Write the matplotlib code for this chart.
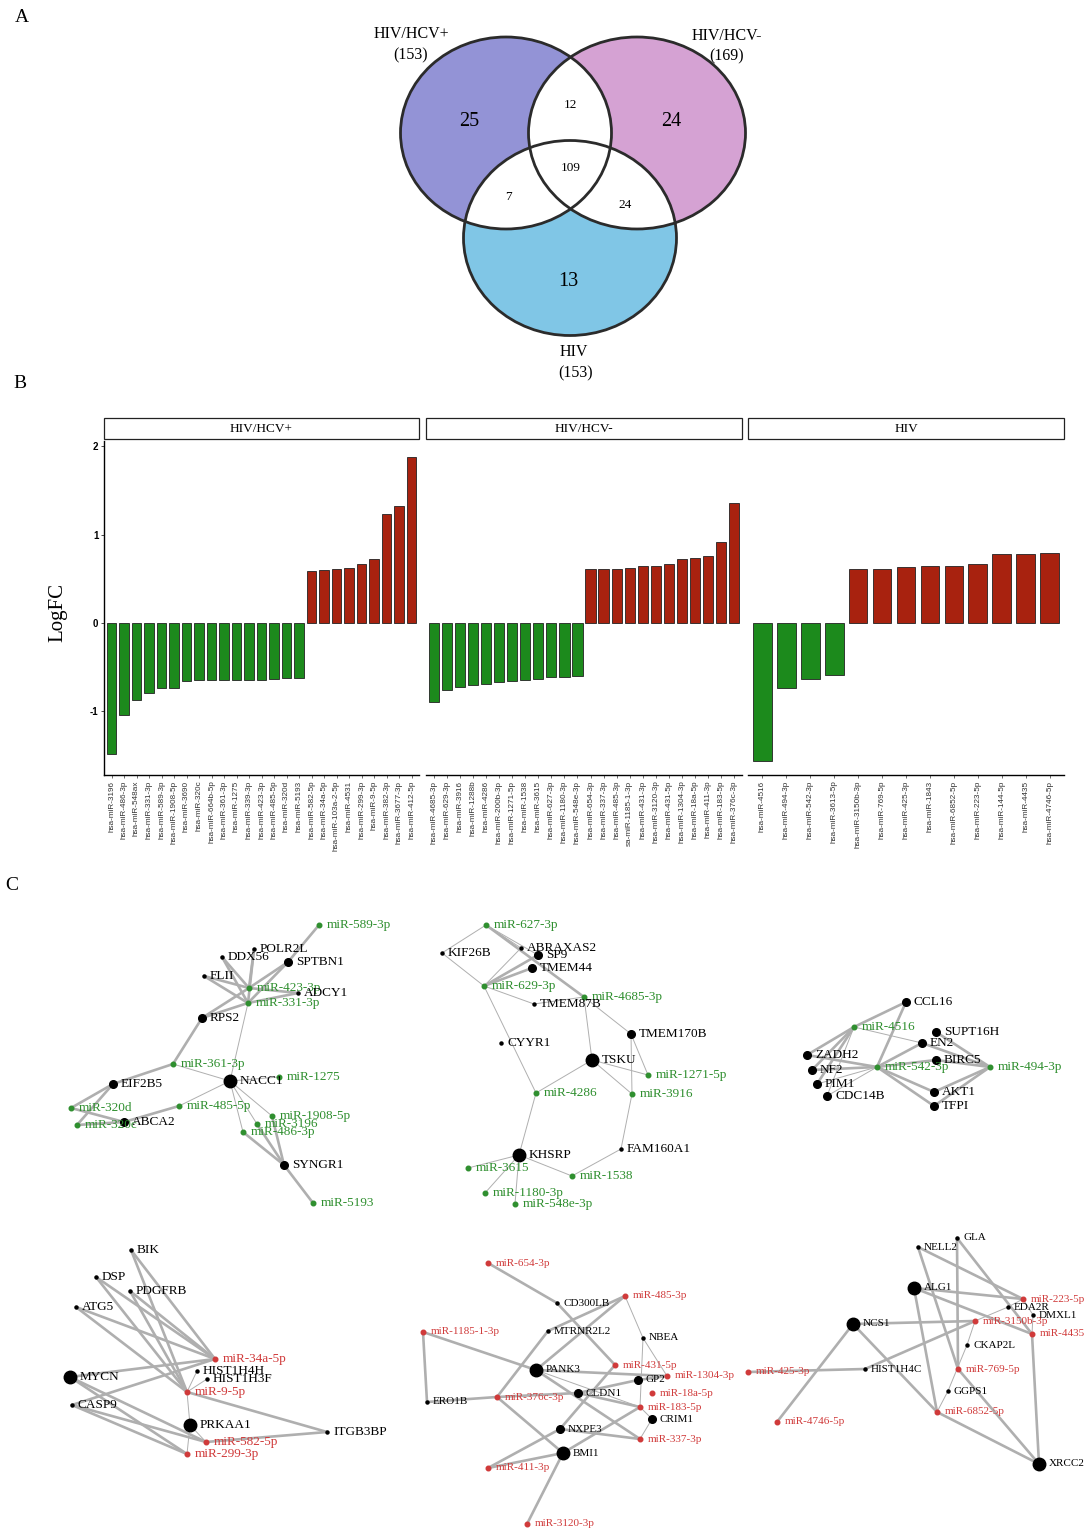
import matplotlib
matplotlib.use("Agg")
import matplotlib.pyplot as plt
from matplotlib.patches import Ellipse, Rectangle
import numpy as np

# ---------------------------------------------------------------- data
# Panel A: Venn diagram
venn_sets    = ["HIV/HCV+", "HIV/HCV-", "HIV"]
venn_totals  = [153, 169, 153]
venn_regions = ["HIV/HCV+ only", "HIV/HCV- only", "HIV only",
                "HIV/HCV+ & HIV/HCV-", "HIV/HCV+ & HIV", "HIV/HCV- & HIV", "all"]
venn_counts  = [25, 24, 13, 12, 7, 24, 109]

# Panel B: LogFC per miRNA in each group
hcvpos_mirs = ["hsa-miR-3196", "hsa-miR-486-3p", "hsa-miR-548ax", "hsa-miR-331-3p",
               "hsa-miR-589-3p", "hsa-miR-1908-5p", "hsa-miR-3690", "hsa-miR-320c",
               "hsa-miR-664b-5p", "hsa-miR-361-3p", "hsa-miR-1275", "hsa-miR-339-3p",
               "hsa-miR-423-3p", "hsa-miR-485-5p", "hsa-miR-320d", "hsa-miR-5193",
               "hsa-miR-582-5p", "hsa-miR-34a-5p", "hsa-miR-103a-2-5p", "hsa-miR-4531",
               "hsa-miR-299-3p", "hsa-miR-9-5p", "hsa-miR-382-3p", "hsa-miR-3677-3p",
               "hsa-miR-412-5p"]
hcvpos_fc = [-1.48, -1.04, -0.87, -0.79, -0.73, -0.73, -0.66, -0.64, -0.64, -0.64,
             -0.64, -0.64, -0.64, -0.63, -0.62, -0.62,
             0.59, 0.60, 0.61, 0.62, 0.67, 0.72, 1.23, 1.33, 1.88]

hcvneg_mirs = ["hsa-miR-4685-3p", "hsa-miR-629-3p", "hsa-miR-3916", "hsa-miR-1288b",
               "hsa-miR-4286", "hsa-miR-200b-3p", "hsa-miR-1271-5p", "hsa-miR-1538",
               "hsa-miR-3615", "hsa-miR-627-3p", "hsa-miR-1180-3p", "hsa-miR-548e-3p",
               "hsa-miR-654-3p", "hsa-miR-337-3p", "hsa-miR-485-3p", "sa-miR-1185-1-3p",
               "hsa-miR-431-3p", "hsa-miR-3120-3p", "hsa-miR-431-5p", "hsa-miR-1304-3p",
               "hsa-miR-18a-5p", "hsa-miR-411-3p", "hsa-miR-183-5p", "hsa-miR-376c-3p"]
hcvneg_fc = [-0.89, -0.76, -0.72, -0.70, -0.69, -0.67, -0.66, -0.65, -0.63, -0.61,
             -0.61, -0.60,
             0.61, 0.61, 0.61, 0.62, 0.64, 0.64, 0.67, 0.72, 0.74, 0.76, 0.92, 1.36]

hiv_mirs = ["hsa-miR-4516", "hsa-miR-494-3p", "hsa-miR-542-3p", "hsa-miR-3613-5p",
            "hsa-miR-3150b-3p", "hsa-miR-769-5p", "hsa-miR-425-3p", "hsa-miR-1843",
            "hsa-miR-6852-5p", "hsa-miR-223-5p", "hsa-miR-144-5p", "hsa-miR-4435",
            "hsa-miR-4746-5p"]
hiv_fc = [-1.56, -0.73, -0.63, -0.59,
          0.61, 0.61, 0.63, 0.64, 0.65, 0.67, 0.78, 0.78, 0.79]

# Panel C: miRNA-gene networks (layout positions in pixels, node rank, edges)
net1_names = ["miR-589-3p", "POLR2L", "DDX56", "SPTBN1", "FLII", "miR-423-3p", "ADCY1",
              "miR-331-3p", "RPS2", "miR-361-3p", "NACC1", "miR-1275", "EIF2B5",
              "miR-320d", "miR-485-5p", "ABCA2", "miR-320c", "miR-1908-5p", "miR-3196",
              "miR-486-3p", "SYNGR1", "miR-5193"]
net1_x = [319, 254, 222, 288, 204, 249, 298, 248, 202, 173, 230, 279, 113, 71, 179,
          124, 77, 272, 257, 243, 284, 313]
net1_y = [925, 949, 957, 962, 976, 988, 993, 1003, 1018, 1064, 1081, 1077, 1084, 1108,
          1106, 1122, 1125, 1116, 1124, 1132, 1165, 1203]
net1_rank = [0, 0, 0, 1, 0, 0, 0, 0, 1, 0, 2, 0, 1, 0, 0, 1, 0, 0, 0, 0, 1, 0]
net1_edges = [("miR-589-3p", "SPTBN1", 2), ("SPTBN1", "miR-423-3p", 2),
              ("SPTBN1", "miR-331-3p", 2), ("POLR2L", "miR-423-3p", 2),
              ("POLR2L", "miR-331-3p", 2), ("DDX56", "miR-423-3p", 2),
              ("DDX56", "miR-331-3p", 2), ("FLII", "miR-423-3p", 2),
              ("FLII", "miR-331-3p", 2), ("ADCY1", "miR-423-3p", 2),
              ("ADCY1", "miR-331-3p", 2), ("RPS2", "miR-423-3p", 2),
              ("RPS2", "miR-331-3p", 2), ("RPS2", "miR-361-3p", 2),
              ("miR-331-3p", "NACC1", 1), ("miR-361-3p", "NACC1", 1),
              ("miR-361-3p", "EIF2B5", 2), ("EIF2B5", "miR-320d", 2),
              ("EIF2B5", "miR-320c", 2), ("ABCA2", "miR-320d", 2),
              ("ABCA2", "miR-320c", 2), ("ABCA2", "miR-485-5p", 2),
              ("miR-485-5p", "NACC1", 1), ("NACC1", "miR-1275", 1),
              ("NACC1", "miR-1908-5p", 1), ("NACC1", "miR-3196", 1),
              ("NACC1", "miR-486-3p", 1), ("SYNGR1", "miR-486-3p", 2),
              ("SYNGR1", "miR-3196", 2), ("SYNGR1", "miR-1908-5p", 2),
              ("SYNGR1", "miR-5193", 2)]

net2_names = ["miR-627-3p", "KIF26B", "ABRAXAS2", "SP9", "TMEM44", "miR-629-3p",
              "miR-4685-3p", "TMEM87B", "TMEM170B", "CYYR1", "TSKU", "miR-1271-5p",
              "miR-4286", "miR-3916", "FAM160A1", "KHSRP", "miR-3615", "miR-1538",
              "miR-1180-3p", "miR-548e-3p"]
net2_x = [486, 442, 521, 538, 532, 484, 584, 534, 631, 501, 592, 648, 536, 632, 621,
          519, 468, 572, 485, 515]
net2_y = [925, 953, 948, 955, 968, 986, 997, 1004, 1034, 1043, 1060, 1075, 1093, 1094,
          1149, 1155, 1168, 1176, 1193, 1204]
net2_rank = [0, 0, 0, 1, 1, 0, 0, 0, 1, 0, 2, 0, 0, 0, 0, 2, 0, 0, 0, 0]
net2_edges = [("miR-627-3p", "KIF26B", 1), ("miR-627-3p", "miR-4685-3p", 2),
              ("miR-627-3p", "ABRAXAS2", 1), ("SP9", "miR-629-3p", 2),
              ("TMEM44", "miR-629-3p", 2), ("SP9", "miR-627-3p", 1),
              ("ABRAXAS2", "miR-629-3p", 1), ("KIF26B", "miR-629-3p", 1),
              ("TMEM87B", "miR-629-3p", 1), ("TMEM87B", "miR-4685-3p", 1),
              ("miR-629-3p", "miR-4286", 1), ("miR-4685-3p", "TSKU", 1),
              ("miR-4685-3p", "TMEM170B", 1), ("TSKU", "miR-4286", 1),
              ("TSKU", "miR-1271-5p", 1), ("TSKU", "miR-3916", 1),
              ("TMEM170B", "miR-1271-5p", 1), ("TMEM170B", "miR-3916", 1),
              ("miR-3916", "FAM160A1", 1), ("FAM160A1", "miR-1538", 1),
              ("KHSRP", "miR-4286", 1), ("KHSRP", "miR-3615", 1),
              ("KHSRP", "miR-1538", 1), ("KHSRP", "miR-1180-3p", 1),
              ("KHSRP", "miR-548e-3p", 1)]

net3_names = ["CCL16", "miR-4516", "SUPT16H", "EN2", "ZADH2", "BIRC5", "miR-542-3p",
              "miR-494-3p", "NF2", "PIM1", "CDC14B", "AKT1", "TFPI"]
net3_x = [906, 854, 936, 922, 807, 936, 877, 990, 812, 817, 827, 934, 934]
net3_y = [1002, 1027, 1032, 1043, 1055, 1060, 1067, 1067, 1070, 1084, 1096, 1092, 1106]
net3_rank = [1, 0, 1, 1, 1, 1, 0, 0, 1, 1, 1, 1, 1]
net3_edges = [("CCL16", "miR-4516", 2), ("CCL16", "miR-542-3p", 2),
              ("miR-4516", "ZADH2", 2), ("miR-4516", "NF2", 2), ("miR-4516", "PIM1", 2),
              ("miR-4516", "CDC14B", 1), ("miR-4516", "EN2", 1),
              ("miR-542-3p", "ZADH2", 2), ("miR-542-3p", "NF2", 2),
              ("miR-542-3p", "PIM1", 1), ("miR-542-3p", "CDC14B", 1),
              ("miR-542-3p", "EN2", 2), ("miR-542-3p", "BIRC5", 2),
              ("miR-542-3p", "AKT1", 2), ("miR-542-3p", "TFPI", 2),
              ("miR-494-3p", "SUPT16H", 2), ("miR-494-3p", "EN2", 2),
              ("miR-494-3p", "BIRC5", 2), ("miR-494-3p", "AKT1", 2),
              ("miR-494-3p", "TFPI", 2)]

net4_names = ["BIK", "DSP", "PDGFRB", "ATG5", "miR-34a-5p", "HIST1H4H", "MYCN",
              "HIST1H3F", "miR-9-5p", "CASP9", "PRKAA1", "ITGB3BP", "miR-582-5p",
              "miR-299-3p"]
net4_x = [131, 96, 130, 76, 215, 197, 70, 207, 187, 72, 190, 327, 206, 187]
net4_y = [1250, 1277, 1291, 1307, 1359, 1371, 1377, 1379, 1392, 1405, 1425, 1432,
          1442, 1454]
net4_rank = [0, 0, 0, 0, 0, 0, 2, 0, 0, 0, 2, 0, 0, 0]
net4_edges = [("BIK", "miR-34a-5p", 2), ("BIK", "miR-9-5p", 2),
              ("DSP", "miR-34a-5p", 2), ("DSP", "miR-9-5p", 2),
              ("PDGFRB", "miR-34a-5p", 2), ("PDGFRB", "miR-9-5p", 2),
              ("ATG5", "miR-34a-5p", 2), ("ATG5", "miR-9-5p", 2),
              ("MYCN", "miR-34a-5p", 2), ("MYCN", "miR-582-5p", 2),
              ("MYCN", "miR-299-3p", 2), ("CASP9", "miR-34a-5p", 2),
              ("CASP9", "miR-582-5p", 2), ("CASP9", "miR-299-3p", 2),
              ("ITGB3BP", "miR-9-5p", 2), ("ITGB3BP", "miR-582-5p", 2),
              ("HIST1H4H", "miR-9-5p", 1), ("HIST1H3F", "miR-9-5p", 1),
              ("PRKAA1", "miR-9-5p", 1), ("PRKAA1", "miR-582-5p", 1),
              ("PRKAA1", "miR-299-3p", 1)]

net5_names = ["miR-654-3p", "miR-485-3p", "CD300LB", "miR-1185-1-3p", "MTRNR2L2",
              "NBEA", "miR-431-5p", "PANK3", "miR-1304-3p", "GP2", "miR-18a-5p",
              "CLDN1", "ERO1B", "miR-376c-3p", "miR-183-5p", "CRIM1", "NXPE3",
              "miR-337-3p", "BMI1", "miR-411-3p", "miR-3120-3p"]
net5_x = [488, 625, 557, 423, 548, 643, 615, 536, 667, 638, 652, 578, 427, 497, 640,
          652, 560, 640, 563, 488, 527]
net5_y = [1263, 1296, 1303, 1332, 1331, 1338, 1365, 1370, 1376, 1380, 1393, 1393,
          1402, 1397, 1407, 1419, 1429, 1439, 1453, 1468, 1524]
net5_rank = [0, 0, 0, 0, 0, 0, 0, 2, 0, 1, 0, 1, 0, 0, 0, 1, 1, 0, 2, 0, 0]
net5_edges = [("miR-654-3p", "CD300LB", 2), ("CD300LB", "miR-431-5p", 2),
              ("miR-485-3p", "PANK3", 2), ("miR-485-3p", "MTRNR2L2", 2),
              ("miR-485-3p", "NBEA", 1), ("NBEA", "miR-1304-3p", 1),
              ("miR-1185-1-3p", "PANK3", 2), ("miR-1185-1-3p", "ERO1B", 2),
              ("ERO1B", "miR-376c-3p", 2), ("MTRNR2L2", "miR-376c-3p", 2),
              ("miR-376c-3p", "BMI1", 2), ("miR-376c-3p", "CLDN1", 2),
              ("CLDN1", "GP2", 2), ("PANK3", "miR-1304-3p", 2),
              ("PANK3", "miR-337-3p", 2), ("PANK3", "miR-183-5p", 1),
              ("CLDN1", "miR-183-5p", 2), ("GP2", "miR-1304-3p", 2),
              ("miR-431-5p", "NXPE3", 2), ("NXPE3", "miR-411-3p", 2),
              ("NXPE3", "miR-337-3p", 2), ("BMI1", "miR-411-3p", 2),
              ("BMI1", "miR-183-5p", 2), ("BMI1", "miR-3120-3p", 2),
              ("CRIM1", "miR-183-5p", 1), ("CRIM1", "miR-337-3p", 1),
              ("NBEA", "miR-183-5p", 1)]

net6_names = ["GLA", "NELL2", "ALG1", "miR-223-5p", "EDA2R", "DMXL1", "NCS1",
              "miR-3150b-3p", "miR-4435", "CKAP2L", "miR-425-3p", "HIST1H4C",
              "miR-769-5p", "GGPS1", "miR-6852-5p", "miR-4746-5p", "XRCC2"]
net6_x = [957, 918, 914, 1023, 1008, 1033, 853, 975, 1032, 967, 748, 865, 958, 948,
          937, 777, 1039]
net6_y = [1238, 1247, 1288, 1299, 1307, 1315, 1324, 1321, 1334, 1345, 1372, 1369,
          1369, 1391, 1412, 1422, 1464]
net6_rank = [0, 0, 2, 0, 0, 0, 2, 0, 0, 0, 0, 0, 0, 0, 0, 0, 2]
net6_edges = [("NELL2", "miR-223-5p", 2), ("NELL2", "miR-769-5p", 2),
              ("GLA", "miR-769-5p", 2), ("GLA", "miR-4435", 2),
              ("ALG1", "miR-223-5p", 2), ("ALG1", "miR-4435", 2),
              ("ALG1", "miR-6852-5p", 2), ("NCS1", "miR-3150b-3p", 2),
              ("NCS1", "miR-4746-5p", 2), ("NCS1", "miR-6852-5p", 2),
              ("HIST1H4C", "miR-425-3p", 2), ("HIST1H4C", "miR-3150b-3p", 2),
              ("EDA2R", "miR-3150b-3p", 1), ("EDA2R", "miR-223-5p", 1),
              ("DMXL1", "miR-4435", 1), ("DMXL1", "miR-223-5p", 1),
              ("CKAP2L", "miR-3150b-3p", 1), ("CKAP2L", "GGPS1", 1),
              ("GGPS1", "miR-6852-5p", 1), ("XRCC2", "miR-6852-5p", 2),
              ("XRCC2", "miR-769-5p", 2), ("XRCC2", "miR-4435", 2)]

# ---------------------------------------------------------------- style
SERIF   = ["Liberation Serif", "DejaVu Serif"]
SANS    = ["Liberation Sans", "DejaVu Sans"]
GREEN   = "#1c8a1c"
RED     = "#a8220f"
EDGE    = "#afafaf"
MIR_GRN = "#2f8f2f"
MIR_RED = "#d03a3a"

fig = plt.figure(figsize=(10.84, 15.32), dpi=100)
bg  = fig.add_axes([0, 0, 1, 1])
bg.set_xlim(0, 1084)
bg.set_ylim(1532, 0)
bg.axis("off")

for letter, lx, ly in [("A", 22, 18), ("B", 20, 384), ("C", 12, 885)]:
    bg.text(lx, ly, letter, family=SERIF, fontsize=14, ha="center", va="center")

# ---------------------------------------------------------------- A: Venn
venn_geom   = [(506, 133, 211, 192), (637, 133, 217, 192), (570, 238, 213, 195)]
venn_colors = ["#9393d6", "#d5a2d3", "#80c6e6"]

for (cx, cy, w, h), col in zip(venn_geom, venn_colors):
    bg.add_patch(Ellipse((cx, cy), w, h, facecolor=col, edgecolor="none", zorder=1))

# blank out every overlap
for i, gi in enumerate(venn_geom):
    for j, gj in enumerate(venn_geom):
        if i == j:
            continue
        clip = Ellipse(gi[:2], gi[2], gi[3], transform=bg.transData)
        white = Ellipse(gj[:2], gj[2], gj[3], facecolor="white", edgecolor="none",
                        zorder=2)
        bg.add_patch(white)
        white.set_clip_path(clip)

for cx, cy, w, h in venn_geom:
    bg.add_patch(Ellipse((cx, cy), w, h, facecolor="none", edgecolor="#2b2b2b",
                         linewidth=2.0, zorder=3))

set_label_pos = [(411, 34, 411, 55), (727, 36, 727, 56), (574, 352, 576, 373)]
for name, total, (tx, ty, nx, ny) in zip(venn_sets, venn_totals, set_label_pos):
    bg.text(tx, ty, name, family=SERIF, fontsize=11.5, ha="center", va="center")
    bg.text(nx, ny, "(%d)" % total, family=SERIF, fontsize=11.5, ha="center",
            va="center")

region_pos  = [(469, 122), (671, 122), (568, 281), (570, 105), (508, 197),
               (625, 205), (571, 168)]
region_size = [14.5, 14.5, 14.5, 9.5, 9.5, 9.5, 9.5]
for count, (rx, ry), fs in zip(venn_counts, region_pos, region_size):
    bg.text(rx, ry, str(count), family=SERIF, fontsize=fs, ha="center", va="center",
            zorder=4)

# ---------------------------------------------------------------- B: bars
W, H = 1084.0, 1532.0
panels = [("HIV/HCV+", hcvpos_mirs, hcvpos_fc, 104, 419),
          ("HIV/HCV-", hcvneg_mirs, hcvneg_fc, 426, 742),
          ("HIV", hiv_mirs, hiv_fc, 748, 1064)]
top, bottom = 441, 775

for k, (title, mirs, fc, x0, x1) in enumerate(panels):
    ax = fig.add_axes([x0 / W, 1 - bottom / H, (x1 - x0) / W, (bottom - top) / H])
    xs = np.arange(len(fc))
    cols = [GREEN if v < 0 else RED for v in fc]
    ax.bar(xs, fc, width=0.78, color=cols, edgecolor="#222222", linewidth=0.6)
    ax.set_xlim(-0.6, len(fc) - 0.4)
    ax.set_ylim(-1.72, 2.06)
    ax.set_xticks(xs)
    ax.set_xticklabels(mirs, rotation=90, fontsize=5.9, color="#333333",
                       family=SANS)
    ax.tick_params(axis="x", length=2, width=0.5, pad=2, color="#333333")
    ax.spines["top"].set_visible(False)
    ax.spines["right"].set_visible(False)
    ax.spines["bottom"].set_linewidth(1.0)
    if k == 0:
        ax.set_yticks([-1, 0, 1, 2])
        ax.set_yticklabels(["-1", "0", "1", "2"], fontsize=7, fontweight="bold",
                           family=SANS)
        ax.tick_params(axis="y", length=2, width=0.5, pad=2)
        ax.spines["left"].set_linewidth(1.0)
    else:
        ax.set_yticks([])
        ax.spines["left"].set_visible(False)
    bg.add_patch(Rectangle((x0, 418), x1 - x0, 21, facecolor="white",
                           edgecolor="#222222", linewidth=0.9))
    bg.text((x0 + x1) / 2, 428.5, title, family=SERIF, fontsize=9.5, ha="center",
            va="center")

bg.text(58, 613, "LogFC", family=SERIF, fontsize=15, rotation=90, ha="center",
        va="center")

# ---------------------------------------------------------------- C: networks
gene_ms = [2.2, 5.5, 9.0]


def draw_network(names, xs, ys, rank, edges, mir_col, fs):
    pos = dict(zip(names, zip(xs, ys)))
    for a, b, w in edges:
        (xa, ya), (xb, yb) = pos[a], pos[b]
        bg.plot([xa, xb], [ya, yb], color=EDGE, linewidth=1.9 if w == 2 else 0.7,
                solid_capstyle="round", zorder=5)
    for name, x, y, r in zip(names, xs, ys, rank):
        if name.startswith("miR"):
            bg.plot(x, y, "o", color=mir_col, markersize=3.3, zorder=6)
            bg.text(x + 8, y, name, color=mir_col, family=SERIF, fontsize=fs,
                    va="center", ha="left", zorder=7)
        else:
            bg.plot(x, y, "o", color="black", markersize=gene_ms[r], zorder=6)
            bg.text(x + 6 + 2 * r, y, name, color="black", family=SERIF,
                    fontsize=fs, va="center", ha="left", zorder=7)


draw_network(net1_names, net1_x, net1_y, net1_rank, net1_edges, MIR_GRN, 9.5)
draw_network(net2_names, net2_x, net2_y, net2_rank, net2_edges, MIR_GRN, 9.5)
draw_network(net3_names, net3_x, net3_y, net3_rank, net3_edges, MIR_GRN, 9.5)
draw_network(net4_names, net4_x, net4_y, net4_rank, net4_edges, MIR_RED, 9.5)
draw_network(net5_names, net5_x, net5_y, net5_rank, net5_edges, MIR_RED, 8)
draw_network(net6_names, net6_x, net6_y, net6_rank, net6_edges, MIR_RED, 8)

fig.savefig("out.png", dpi=100, facecolor="white")
